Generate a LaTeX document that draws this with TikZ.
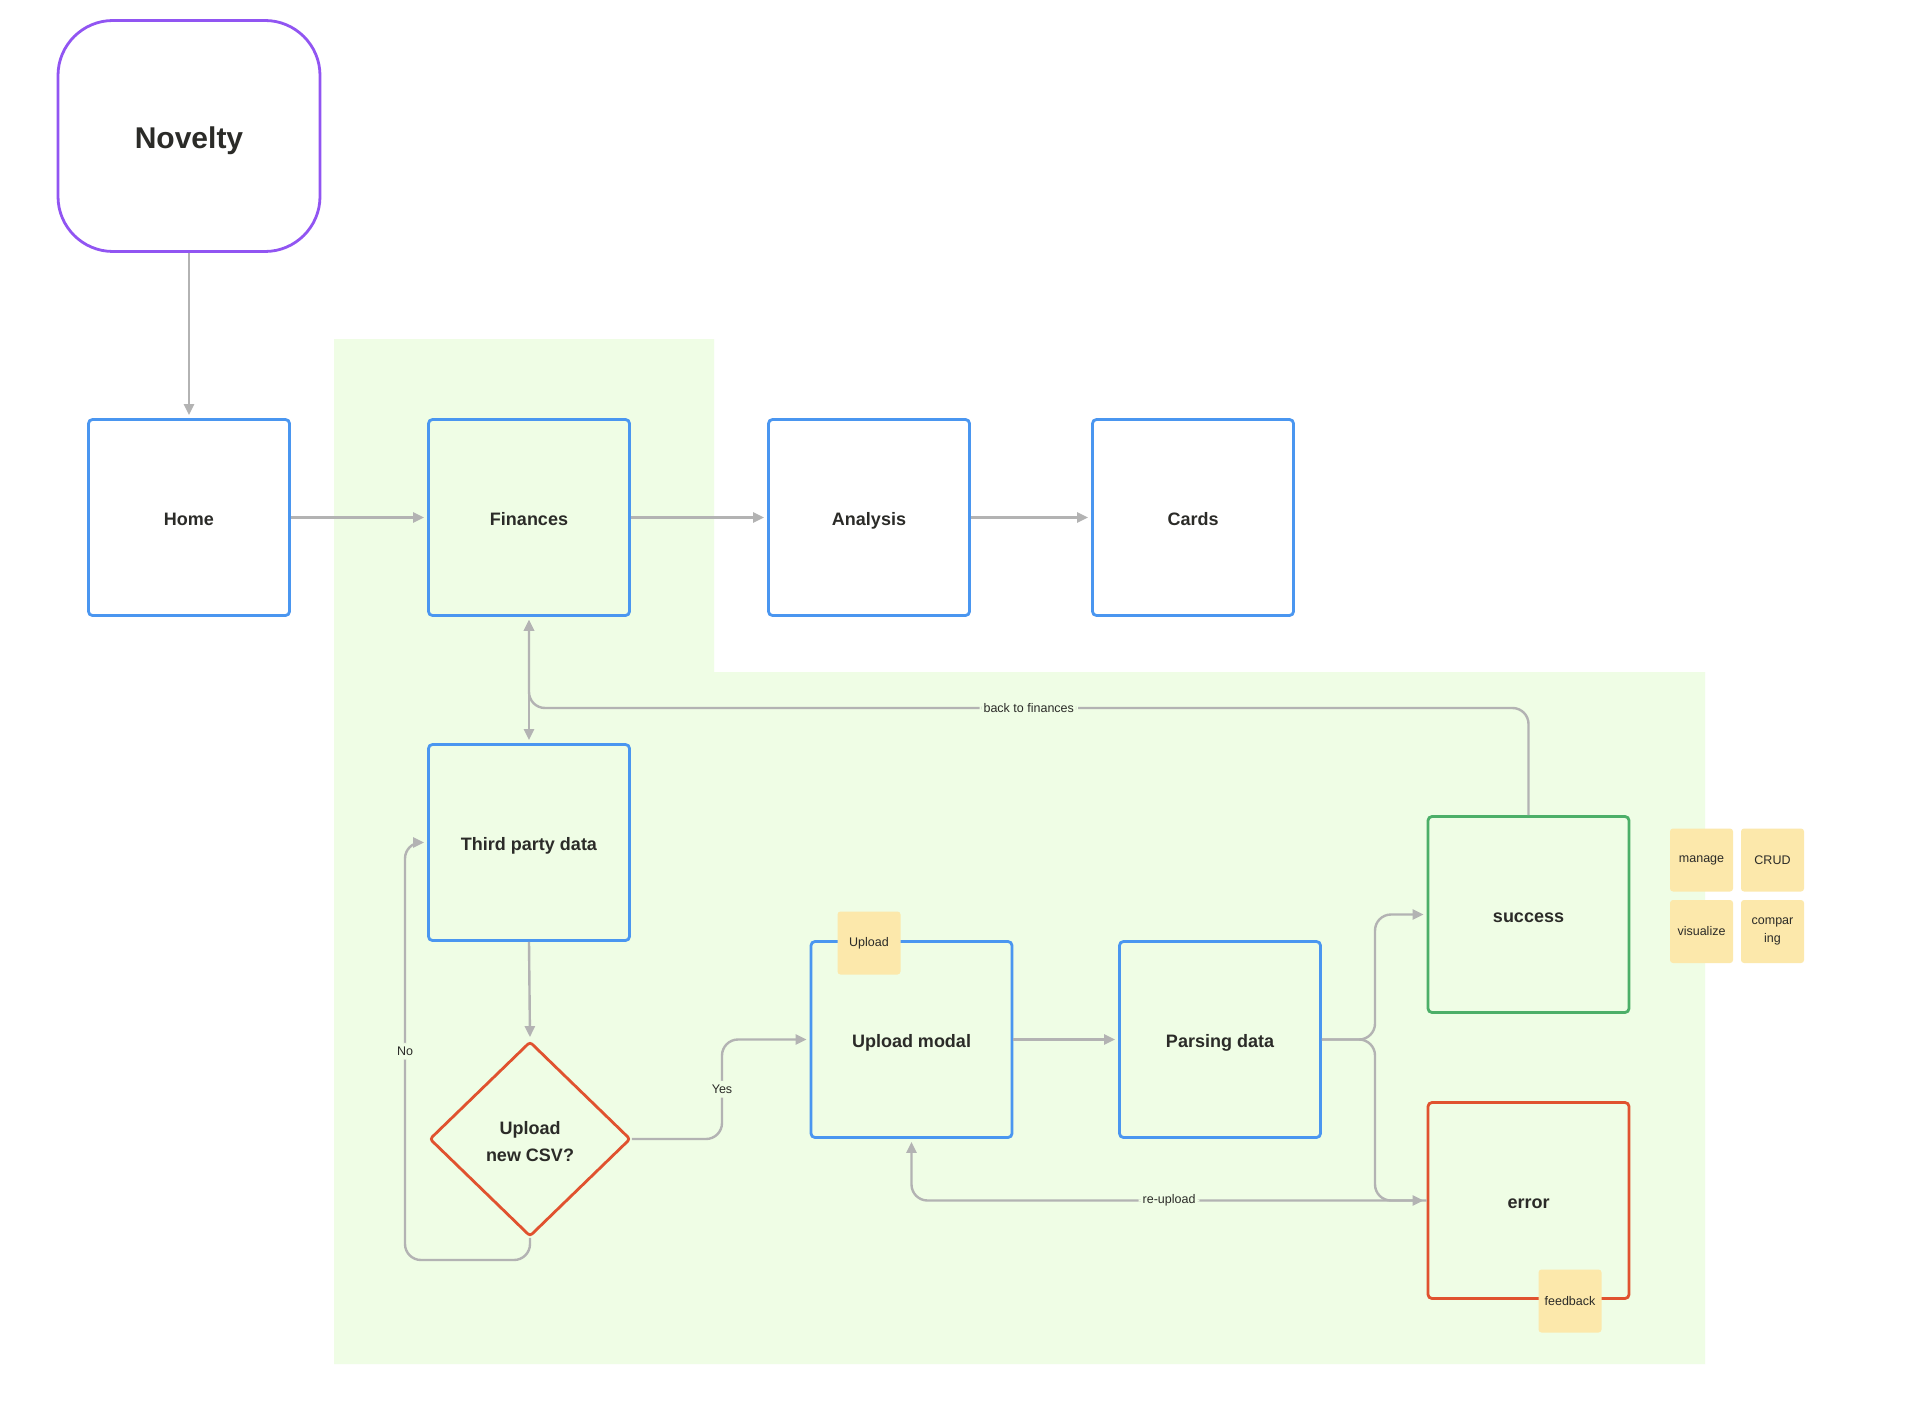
\documentclass[tikz,border=0pt]{standalone}
\usepackage{fontspec}
\setmainfont{Liberation Sans}
\usetikzlibrary{arrows.meta,shapes.geometric}
\definecolor{cpurple}{HTML}{9155F2}
\definecolor{cblue}{HTML}{4A96F0}
\definecolor{cred}{HTML}{E0522F}
\definecolor{cgreen}{HTML}{4CAF68}
\definecolor{bggreen}{HTML}{EFFDE5}
\definecolor{csticky}{HTML}{FCE8AB}
\definecolor{cline}{HTML}{B3B3B3}
\definecolor{ctext}{HTML}{2B2B28}
\tikzset{
  boxbase/.style={rectangle, rounded corners=4pt, line width=2.8pt, minimum width=201pt, minimum height=196pt, text=ctext, font=\fontsize{18}{22}\selectfont\bfseries, text height=15pt, text depth=0pt},
  bluebox/.style={boxbase, draw=cblue},
  bluefill/.style={bluebox, fill=bggreen},
  novbox/.style={rectangle, rounded corners=55pt, draw=cpurple, line width=2.8pt, fill=white, minimum width=262pt, minimum height=231pt, text=ctext, font=\fontsize{30}{34}\selectfont\bfseries, text height=24.5pt, text depth=0pt},
  okbox/.style={boxbase, draw=cgreen, fill=bggreen},
  errbox/.style={boxbase, draw=cred, fill=bggreen},
  decision/.style={diamond, draw=cred, line width=2.8pt, fill=bggreen, rounded corners=3pt, minimum width=201pt, minimum height=195pt, inner sep=0pt, text=ctext, font=\fontsize{18}{27}\selectfont\bfseries, align=center},
  sticky/.style={rectangle, rounded corners=3pt, fill=csticky, minimum width=63pt, minimum height=63pt, inner sep=1pt, text=ctext, font=\fontsize{12.5}{18}\selectfont, align=center},
  conn/.style={draw=cline, line width=2.4pt, rounded corners=16pt, -{Triangle[length=11pt,width=10pt]}, shorten >=3pt},
  lbl/.style={fill=bggreen, inner sep=4pt, text=ctext, font=\fontsize{12.5}{15}\selectfont}
}
\begin{document}
\begin{tikzpicture}[x=1pt,y=-1pt]
\useasboundingbox[fill=white] (0,0) rectangle (1918,1420);
% background region
\fill[bggreen] (334,339) -- (714,339) -- (714,672) -- (1705,672) -- (1705,1364) -- (334,1364) -- cycle;

% nodes
\node[novbox] (nov) at (189,136) {Novelty};
\node[bluebox, fill=white] (home) at (189,517.5) {Home};
\node[bluefill] (fin) at (529,517.5) {Finances};
\node[bluebox, fill=white] (ana) at (869,517.5) {Analysis};
\node[bluebox, fill=white] (cards) at (1193,517.5) {Cards};
\node[bluefill] (third) at (529,842.5) {Third party data};
\node[decision] (dia) at (530,1139) {\strut Upload\\new CSV?};
\node[bluefill] (up) at (911.5,1039.5) {Upload modal};
\node[bluefill] (parse) at (1220,1039.5) {Parsing data};
\node[okbox] (succ) at (1528.5,914.5) {success};
\node[errbox] (err) at (1528.5,1200.5) {error};

% stickies
\node[sticky] (supload) at (869,943) {Upload};
\node[sticky] (sfeed) at (1570,1301) {feedback};
\node[sticky] (smanage) at (1701.5,860) {manage};
\node[sticky] (scrud) at (1772.5,860) {CRUD};
\node[sticky] (svis) at (1701.5,931.5) {visualize};
\node[sticky] (scomp) at (1772.5,931.5) {compar\\ing};

% connectors
\draw[conn] (nov) -- (home);
\draw[conn] (home) -- (fin);
\draw[conn] (fin) -- (ana);
\draw[conn] (ana) -- (cards);
\draw[conn, {Triangle[length=11pt,width=10pt]}-{Triangle[length=11pt,width=10pt]}, shorten <=3pt] (fin.south) -- (third.north);
\coordinate (bk) at (529,708);
\draw[conn] (succ.north) |- node[lbl, pos=0.75] (lback) {back to finances} (bk) -- (fin.south);
\draw[conn] (third.south) -- (dia.north);
\coordinate (nob) at (530,1260);
\coordinate (nol) at (405,1260);
\coordinate (not) at (405,842.5);
\draw[conn] (dia.south) -- (nob) -- (nol) -- node[lbl, pos=0.5] (lno) {No} (not) -- (third.west);
\coordinate (yr) at (722,1139);
\coordinate (yt) at (722,1039.5);
\draw[conn] (dia.east) -- (yr) -- node[lbl, pos=0.5] (lyes) {Yes} (yt) -- (up.west);
\draw[conn] (up) -- (parse);
\coordinate (sm) at (1375,1039.5);
\coordinate (st) at (1375,914.5);
\coordinate (sb) at (1375,1200.5);
\draw[conn] (parse.east) -- (sm) -- (st) -- (succ.west);
\draw[conn] (parse.east) -- (sm) -- (sb) -- (err.west);
\coordinate (rl) at (911.5,1200.5);
\draw[conn] (err.west) -- node[lbl, pos=0.5] (lre) {re-upload} (rl) -- (up.south);
\end{tikzpicture}
\end{document}
